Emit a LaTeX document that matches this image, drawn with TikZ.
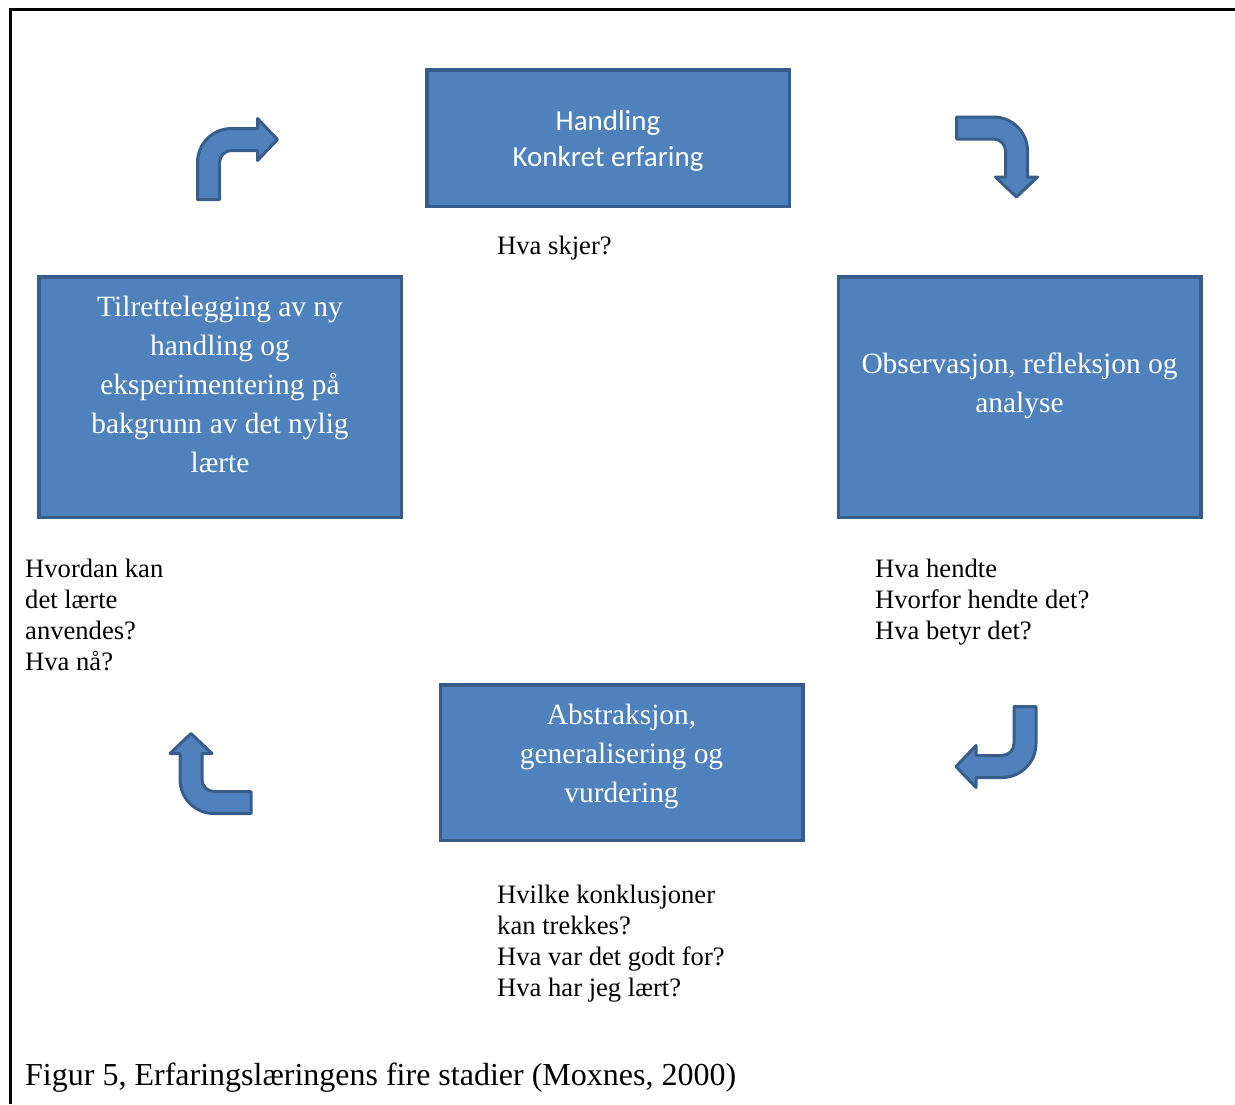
\documentclass[tikz,border=0pt]{standalone}
\usepackage{fontspec}
\setmainfont{Liberation Serif}
\newfontfamily\calibri{Carlito}
\usepackage{tikz}
\usepackage{xcolor}
\definecolor{boxblue}{HTML}{4F81BD}
\definecolor{boxedge}{HTML}{385D8A}

\begin{document}
\begin{tikzpicture}[x=1pt,y=-1pt,
    stage/.style={draw=boxedge,fill=boxblue,line width=3.5pt,inner sep=0pt},
    stagetext/.style={text=white,align=center,inner sep=0pt,font=\fontsize{29.4}{39}\selectfont},
    ask/.style={align=left,anchor=north west,inner sep=0pt,font=\fontsize{26.6}{30.8}\selectfont},
    turnarrow/.pic={
      \draw[draw=boxedge,fill=boxblue,line width=3pt,line join=round]
        (-18,40) -- (-40,40) -- (-40,3) .. controls (-40,-15.8) and (-24.8,-31) .. (-6,-31)
        -- (20,-31) -- (20,-41) -- (40,-20) -- (20,1) -- (20,-9) -- (-6,-9)
        .. controls (-12.6,-9) and (-18,-3.6) .. (-18,3) -- cycle;
    }]
  \useasboundingbox (0,0) rectangle (1235,1104);
  % ramme
  \draw[line width=2.5pt] (10.5,1104) -- (10.5,9.5) -- (1235,9.5);

  % de fire stadiene
  \node[stage,minimum width=362.5pt,minimum height=136.5pt] (act) at (608,138) {};
  \node[stagetext,font=\calibri\fontsize{29}{36}\selectfont] (act-txt) at ([yshift=-3pt]act.center) {Handling\\Konkret erfaring};

  \node[stage,minimum width=362.5pt,minimum height=240.5pt] (obs) at (1019.5,397) {};
  \node[stagetext] (obs-txt) at ([yshift=11pt]obs.center) {Observasjon, refleksjon og\\analyse};

  \node[stage,minimum width=362.5pt,minimum height=155.5pt] (abs) at (621.5,762.5) {};
  \node[stagetext] (abs-txt) at ([yshift=6pt]abs.center) {Abstraksjon,\\generalisering og\\vurdering};

  \node[stage,minimum width=362.5pt,minimum height=240.5pt] (plan) at (220,397) {};
  \node[stagetext] (plan-txt) at ([yshift=13pt]plan.center) {Tilrettelegging av ny\\handling og\\eksperimentering på\\bakgrunn av det nylig\\lærte};

  % piler mellom stadiene
  \pic (turnA) at (237.5,159.5) {turnarrow};
  \pic[rotate=-90] (turnB) at (996.5,157) {turnarrow};
  \pic[rotate=180] (turnC) at (996,746.5) {turnarrow};
  \pic[rotate=90] (turnD) at (211,773.5) {turnarrow};

  % spørsmål
  \node[ask] (q-act) at (497,236) {Hva skjer?};
  \node[ask] (q-obs) at (875,559) {Hva hendte\\Hvorfor hendte det?\\Hva betyr det?};
  \node[ask] (q-abs) at (497,885) {Hvilke konklusjoner\\kan trekkes?\\Hva var det godt for?\\Hva har jeg lært?};
  \node[ask] (q-plan) at (25,559) {Hvordan kan\\det lærte\\anvendes?\\Hva nå?};

  \node[anchor=base west,inner sep=0pt,font=\fontsize{32}{36}\selectfont] (caption) at (25,1085)
    {Figur 5, Erfaringslæringens fire stadier (Moxnes, 2000)};
\end{tikzpicture}
\end{document}
